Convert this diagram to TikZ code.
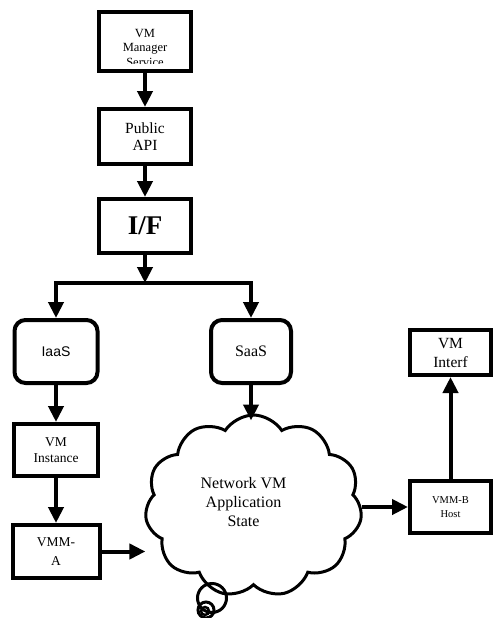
\documentclass[tikz,border=0pt]{standalone}
\usepackage{fontspec}
\setmainfont{Liberation Serif}
\setsansfont{Liberation Sans}
\usetikzlibrary{arrows.meta,shapes.symbols}

\tikzset{
  box/.style={draw, line width=4pt, inner sep=0pt, align=center},
  rbox/.style={box, rounded corners=11pt},
  arr/.style={-{Triangle[width=15pt,length=16pt]}, line width=4pt},
}
\newcommand{\fs}[2]{\fontsize{#1}{#2}\selectfont}

\begin{document}
\begin{tikzpicture}[x=1pt, y=-1pt]
	\useasboundingbox (0,0) rectangle (494,618);

	% top column
	\node[box, minimum width=92pt, minimum height=59pt] (mgr) at (145,41.5) {};
	\begin{scope}
		\clip (100,14) rectangle (190,63.5);
		\node[inner sep=0pt, anchor=north, align=center, font=\fs{12.5}{14.5}] (mgrtext) at (145,29) {VM\\Manager\\Service};
	\end{scope}
	\node[box, minimum width=92pt, minimum height=55pt, font=\fs{15.5}{17.5}] (api) at (145,136.5) {Public\\API};
	\node[box, minimum width=92pt, minimum height=54pt, font=\fs{27}{29}\bfseries] (iface) at (145,226) {I/F};

	% service models
	\node[rbox, minimum width=83pt, minimum height=63pt, font=\sffamily\fs{14}{17}] (iaas) at (56,351.5) {IaaS};
	\node[rbox, minimum width=80pt, minimum height=63pt, font=\fs{16}{18}] (saas) at (251,351.5) {SaaS};

	% left column
	\node[box, minimum width=84pt, minimum height=52pt, font=\fs{13.5}{16}] (vminst) at (56,450) {VM\\Instance};
	\node[box, minimum width=87pt, minimum height=53pt, font=\fs{13.5}{19}] (vmma) at (56,551.5) {VMM-\\A};

	% network state
	\node[cloud, draw, line width=3pt, cloud puffs=11, cloud puff arc=115, cloud ignores aspect,
		minimum width=217pt, minimum height=182pt] (cloud) at (253.5,506) {};
	\node[inner sep=0pt, align=center, font=\fs{16}{19}] (cloudtext) at ([xshift=-10pt,yshift=4pt]cloud.center) {Network VM\\Application\\State};
	\draw[line width=3pt] (212,598) circle (14.5);
	\draw[line width=3pt] (206,610) circle (8);
	\draw[line width=2.5pt] (205,611) circle (4);

	% right column
	\node[box, minimum width=81pt, minimum height=52pt, font=\fs{10.5}{14}] (vmmb) at (450.5,507) {VMM-B\\Host};
	\node[box, minimum width=81pt, minimum height=45pt, font=\fs{15.5}{19}] (vmint) at (450.5,352.5) {VM\\Interf};

	% connectors
	\draw[arr] (mgr) -- (api);
	\draw[arr] (api) -- (iface);
	\coordinate (split) at (145,283);
	\draw[arr] (iface) -- (split);
	\draw[arr] (split) -| (iaas);
	\draw[arr] (split) -| (saas);
	\draw[arr] (iaas) -- (vminst);
	\draw[arr] (vminst) -- (vmma);
	\draw[arr] (saas) -- ([yshift=-7pt]saas.south |- cloud.north);
	\draw[arr] (vmma) -- (vmma -| cloud.west);
	\draw[arr] (cloud.east |- vmmb) -- (vmmb);
	\draw[arr] (vmmb) -- (vmint);
\end{tikzpicture}
\end{document}
